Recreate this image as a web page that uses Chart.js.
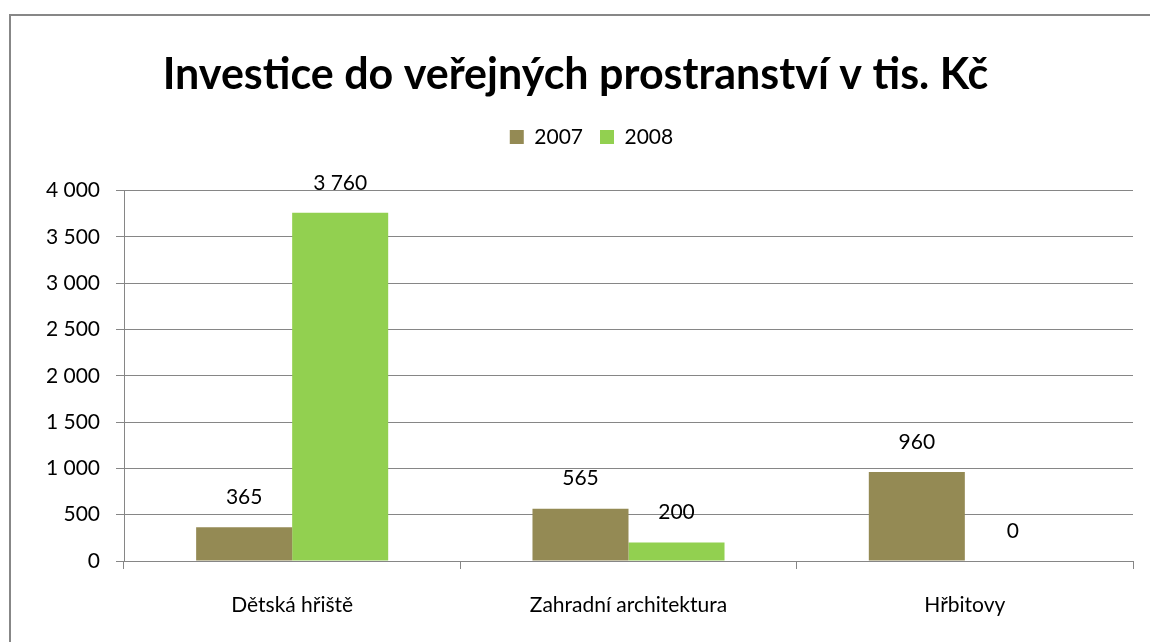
<!DOCTYPE html>
<html>
<head>
<meta charset="utf-8">
<script src="https://cdn.jsdelivr.net/npm/chart.js@4/dist/chart.umd.min.js"></script>
<style>
  html, body { margin: 0; padding: 0; background: #fff; }
  #wrap { width: 1150px; height: 642px; position: relative; }
</style>
</head>
<body>
<div id="wrap"><canvas id="chart" width="1150" height="642"></canvas></div>
<script>
// chart data
const categories = ["Dětská hřiště", "Zahradní architektura", "Hřbitovy"];
const values2007 = [365, 565, 960];
const values2008 = [3760, 200, 0];
const seriesNames = ["2007", "2008"];

const FONT = "Lato, 'Open Sans', sans-serif";

// number with space as thousands separator
function fmt(v) {
  return String(v).replace(/\B(?=(\d{3})+(?!\d))/g, " ");
}

// shift a box sideways when it is drawn
function nudge(box, dx) {
  const draw = box.draw;
  box.draw = function () {
    const ctx = this.ctx;
    ctx.save();
    ctx.translate(dx, 0);
    draw.apply(this, arguments);
    ctx.restore();
  };
}

// gray frame round the chart
const framePlugin = {
  id: "frame",
  afterInit(chart) {
    // extra room under the legend
    const fit = chart.legend.fit;
    chart.legend.fit = function () {
      fit.call(this);
      this.height += 33;
    };
    nudge(chart.legend, 25);
    nudge(chart.titleBlock, 9);
  },
  beforeDraw(chart) {
    const ctx = chart.ctx;
    ctx.save();
    ctx.fillStyle = "#fff";
    ctx.fillRect(0, 0, chart.width, chart.height);
    ctx.strokeStyle = "#878787";
    ctx.lineWidth = 2;
    ctx.strokeRect(10, 15, 1160, 660);
    ctx.restore();
  }
};

// value labels above bars
const valueLabels = {
  id: "valueLabels",
  afterDatasetsDraw(chart) {
    const ctx = chart.ctx;
    ctx.save();
    ctx.font = "21px " + FONT;
    ctx.fillStyle = "#000";
    ctx.textAlign = "center";
    ctx.textBaseline = "middle";
    chart.data.datasets.forEach((ds, i) => {
      chart.getDatasetMeta(i).data.forEach((bar, j) => {
        ctx.fillText(fmt(ds.data[j]), bar.x, bar.y - 30);
      });
    });
    ctx.restore();
  }
};

new Chart(document.getElementById("chart"), {
  type: "bar",
  data: {
    labels: categories,
    datasets: [
      { label: seriesNames[0], data: values2007, backgroundColor: "#948A54" },
      { label: seriesNames[1], data: values2008, backgroundColor: "#92D050" }
    ]
  },
  options: {
    responsive: false,
    animation: false,
    layout: { padding: { top: 0, right: 17, bottom: 0, left: 0 } },
    datasets: {
      bar: { barPercentage: 1, categoryPercentage: 0.571 }
    },
    plugins: {
      title: {
        display: true,
        text: "Investice do veřejných prostranství v tis. Kč",
        color: "#000",
        font: { family: FONT, size: 43, weight: "bold", lineHeight: 1.2 },
        padding: { top: 49, bottom: 9 }
      },
      legend: {
        display: true,
        labels: {
          color: "#000",
          font: { family: FONT, size: 21 },
          boxWidth: 14,
          boxHeight: 14,
          padding: 17
        }
      },
      tooltip: { enabled: false }
    },
    scales: {
      x: {
        grid: {
          offset: true,
          drawOnChartArea: false,
          color: "#868686",
          tickLength: 8
        },
        border: { color: "#868686" },
        ticks: { color: "#000", font: { family: FONT, size: 21 }, padding: 24 },
        afterFit(scale) { scale.height = 81; }
      },
      y: {
        min: 0,
        max: 4000,
        ticks: {
          stepSize: 500,
          color: "#000",
          font: { family: FONT, size: 21 },
          padding: 16,
          callback: v => fmt(v)
        },
        grid: { color: "#868686", tickLength: 8 },
        border: { color: "#868686" },
        afterFit(scale) { scale.width = 124; }
      }
    }
  },
  plugins: [framePlugin, valueLabels]
});
</script>
</body>
</html>
